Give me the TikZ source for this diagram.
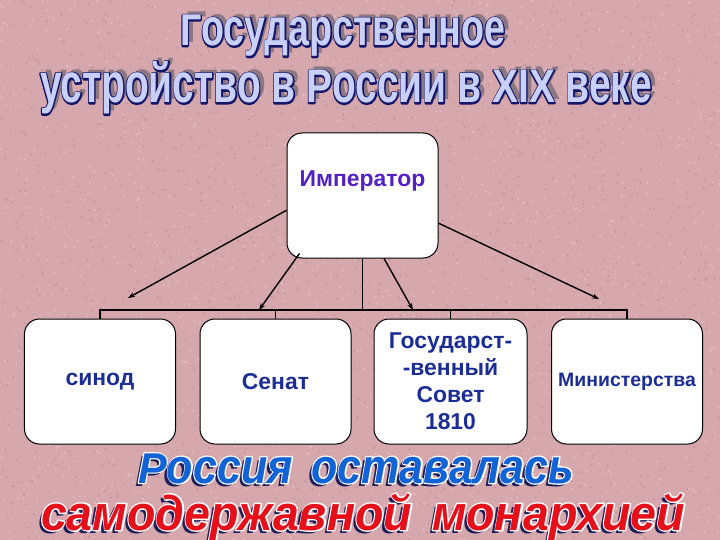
\documentclass[tikz,border=0pt]{standalone}
\usepackage{fontspec}
\setmainfont{Liberation Sans}
\usepackage{graphicx}
\usetikzlibrary{arrows.meta}
\definecolor{bg}{RGB}{214,168,173}
\definecolor{bgd}{RGB}{196,148,154}
\definecolor{bgl}{RGB}{228,190,194}
\definecolor{emptext}{RGB}{84,32,196}
\definecolor{boxtext}{RGB}{28,46,150}
\definecolor{tshadow}{RGB}{140,120,130}
\definecolor{toutline}{RGB}{22,22,104}
\definecolor{tfill}{RGB}{200,208,248}
\definecolor{bshadow}{RGB}{30,30,90}
\definecolor{bblue}{RGB}{18,100,214}
\definecolor{bred}{RGB}{230,16,26}
\newcommand\trset{}
\newcommand\tallx[2][1.17]{\scalebox{1}[#1]{#2}\trset}
\newcommand\lineA{\resizebox{325bp}{\height}{\fontsize{44.7}{50}\selectfont\bfseries Г\tallx{осударственное}}}
\newcommand\lineB{\resizebox{612bp}{\height}{\fontsize{47.5}{52}\selectfont\bfseries \tallx{устройство в }Р\tallx{оссии в }XIX\tallx{ веке}}}
\newcommand\lineC{\resizebox{436bp}{\height}{\fontsize{43.3}{48}\selectfont\bfseries\itshape Р\tallx[1.13]{оссия\hspace{0.15em} оставалась}}}
\newcommand\lineD{\resizebox{644bp}{\height}{\fontsize{41}{46}\selectfont\bfseries\itshape \tallx[1.2]{самодержавной\hspace{0.15em} монархией}}}
% stroked text (fill + stroke in the given rgb and width), laid under the fill copy
\newcommand\outl[3]{\def\trset{\special{pdf:literal direct #1 RG #2 w 1 j 2 Tr}}\trset#3\special{pdf:literal direct 0 Tr}}
\newcommand\titleart[4]{%
  \node[wa,text=tshadow] (#4s) at (#1+5,#2-3) {#3};
  \node[wa,text=toutline] (#4o) at (#1,#2) {\outl{0.086 0.086 0.408}{2.8}{#3}};
  \node[wa,text=tfill] (#4) at (#1,#2) {#3};}
\newcommand\bottomart[5]{%
  \node[wa,text=bshadow] (#5s) at (#1-3,#2+3) {#3};
  \node[wa,text=white] (#5o) at (#1,#2) {\outl{1 1 1}{2.4}{#3}};
  \node[wa,text=#4] (#5) at (#1,#2) {#3};}
\begin{document}
\begin{tikzpicture}[x=1bp,y=-1bp,
  box/.style={draw=black,line width=1bp,fill=white,rounded corners=15bp,
    minimum width=151bp,minimum height=125bp,inner sep=0pt,align=center,
    text=boxtext,font=\bfseries\fontsize{23}{27}\selectfont},
  ln/.style={line width=1.4bp,draw=black},
  arr/.style={ln,-{Stealth[length=7bp,width=5bp]}},
  wa/.style={anchor=base west,inner sep=0pt,outer sep=0pt}]
\useasboundingbox (0,0) rectangle (720,540);
\begin{scope}
\clip (0,0) rectangle (720,540);
\fill[bg] (0,0) rectangle (720,540);
\pgfmathsetseed{12345}
\foreach \i in {1,...,1500}{%
  \pgfmathsetmacro\xx{rnd*720}\pgfmathsetmacro\yy{rnd*540}%
  \fill[bgd] (\xx,\yy) circle (1.1);}
\foreach \i in {1,...,1500}{%
  \pgfmathsetmacro\xx{rnd*720}\pgfmathsetmacro\yy{rnd*540}%
  \fill[bgl] (\xx,\yy) circle (1.1);}

% title
\titleart{180}{46}{\lineA}{t1}
\titleart{40}{103}{\lineB}{t2}

% boxes
\node[box] (emp) at (362.5,195.5) {};
\node[inner sep=0pt,text=emptext,font=\bfseries\fontsize{23}{27}\selectfont] (empl) at (362.5,181) {Император};
\node[box] (b1) at (100,381.5) {синод};
\node[box] (b2) at (275.5,381.5) {Сенат};
\node[box,minimum width=153bp] (b3) at (450.5,381.5) {Государст-\\-венный\\Совет\\1810};
\node[box,font=\bfseries\fontsize{19.5}{23}\selectfont] (b4) at (627,381.5) {Министерства};

% bus
\coordinate (bus) at (0,310);
\draw[ln] (b1.north) -- (b1.north |- bus) -- (b4.north |- bus) -- (b4.north);
\draw[ln] (b2.north) -- (b2.north |- bus);
\draw[ln] (b3.north) -- (b3.north |- bus);
\draw[ln] (emp.south) -- (emp.south |- bus);

% arrows
\coordinate (e1) at (128,298);
\coordinate (e2) at (259,310);
\coordinate (e3) at (413,310);
\coordinate (e4) at (599,299);
\draw[arr] (emp.191) -- (e1);
\draw[arr] ([xshift=13bp,yshift=5bp]emp.south west) -- (e2);
\draw[arr] ([xshift=21.5bp]emp.south) -- (e3);
\draw[arr] (emp.340) -- (e4);

% bottom text
\bottomart{138}{483}{\lineC}{bblue}{l3}
\bottomart{41}{530}{\lineD}{bred}{l4}
\end{scope}
\end{tikzpicture}
\end{document}
